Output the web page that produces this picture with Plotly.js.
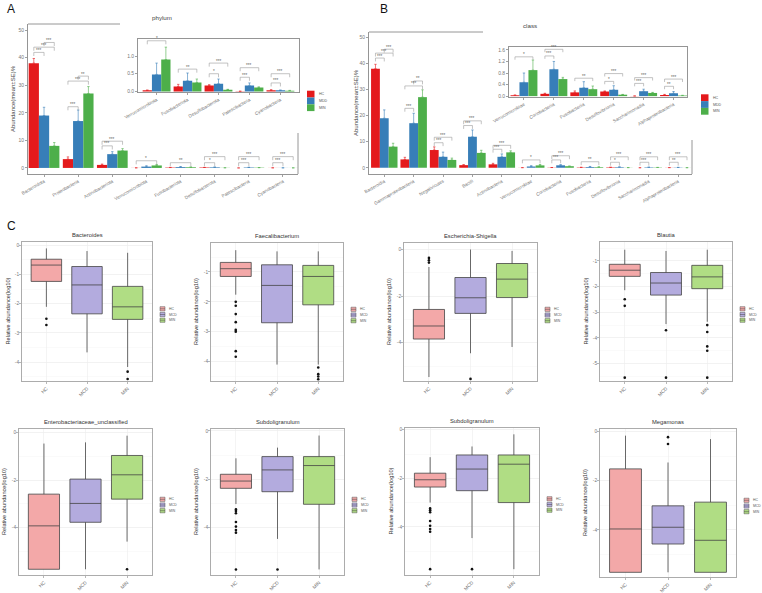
<!DOCTYPE html>
<html><head><meta charset="utf-8">
<script src="https://cdn.plot.ly/plotly-3.0.1.min.js"></script>
<style>html,body{margin:0;padding:0;background:#fff}#chart{width:762px;height:593px}</style>
</head><body><div id="chart"></div>
<script>
const W = 762, H = 593;
const px = v => v / W, py = v => 1 - v / H;

// ---------- Panel A / B data ----------
const barGroups = ['HC', 'MDD', 'MIN'];
const barColors = ['#E41A1C', '#377EB8', '#4DAF4A'];

const phyla = ['Bacteroidota','Proteobacteria','Actinobacteriota','Verrucomicrobiota','Fusobacteriota','Desulfobacterota','Patescibacteria','Cyanobacteria'];
const phylaHC  = [38.0, 3.2, 1.1, 0.03, 0.14, 0.17, 0.005, 0.03];
const phylaMDD = [19.0, 17.0, 5.0, 0.48, 0.30, 0.22, 0.17, 0.03];
const phylaMIN = [8.0, 27.0, 6.3, 0.90, 0.25, 0.05, 0.11, 0.02];
const phylaSeHC  = [1.7, 0.8, 0.3, 0.01, 0.06, 0.02, 0.002, 0.02];
const phylaSeMDD = [3.0, 4.0, 0.9, 0.32, 0.22, 0.13, 0.07, 0.01];
const phylaSeMIN = [1.2, 2.5, 0.7, 0.35, 0.10, 0.01, 0.02, 0.01];
const phylaInsetStart = 3;

const sigPhylaCat  = [0,0,0,1,1,1,2,2,3,4,5,5,6,6,7,7];
const sigPhylaPair = ['HC-MDD','HC-MIN','MDD-MIN','HC-MDD','HC-MIN','MDD-MIN','HC-MDD','HC-MIN','HC-MIN','HC-MIN','HC-MDD','HC-MIN','HC-MDD','HC-MIN','HC-MDD','HC-MIN'];
const sigPhylaY    = [41.9,43.8,45.5,22.2,31.5,33.3,8.0,9.7,2.6,1.9,1.9,4.1,1.9,4.1,1.9,4.1];
const sigPhylaLab  = ['***','***','***','***','***','**','***','***','*','**','*','***','***','***','***','***'];

const sigPhylaInCat  = [0,1,2,2,3,3,4,4];
const sigPhylaInPair = ['HC-MIN','HC-MIN','HC-MDD','HC-MIN','HC-MDD','HC-MIN','HC-MDD','HC-MIN'];
const sigPhylaInY    = [1.43,0.63,0.50,0.80,0.40,0.67,0.24,0.50];
const sigPhylaInLab  = ['*','**','*','***','***','***','***','***'];

const classes = ['Bacteroidia','Gammaproteobacteria','Negativicutes','Bacilli','Actinobacteria','Verrucomicrobiae','Coriobacteriia','Fusobacteriia','Desulfovibrionia','Saccharimonadia','Alphaproteobacteria'];
const classHC  = [38.0, 3.2, 6.8, 1.0, 1.3, 0.03, 0.08, 0.13, 0.16, 0.005, 0.04];
const classMDD = [19.0, 17.1, 4.2, 11.9, 4.2, 0.48, 0.93, 0.29, 0.22, 0.17, 0.10];
const classMIN = [8.1, 27.1, 3.0, 5.7, 5.9, 0.90, 0.59, 0.24, 0.05, 0.11, 0.02];
const classSeHC  = [1.7, 0.8, 1.2, 0.2, 0.4, 0.01, 0.02, 0.05, 0.02, 0.002, 0.02];
const classSeMDD = [3.2, 3.8, 1.8, 2.6, 1.1, 0.32, 0.27, 0.21, 0.14, 0.07, 0.06];
const classSeMIN = [1.3, 2.8, 0.7, 1.0, 0.6, 0.35, 0.06, 0.11, 0.01, 0.02, 0.01];
const classInsetStart = 5;

const sigClassCat  = [0,0,0,1,1,1,2,2,3,3,4,4,5,6,6,7,8,8,9,9,10,10];
const sigClassPair = ['HC-MDD','HC-MIN','MDD-MIN','HC-MDD','HC-MIN','MDD-MIN','HC-MDD','HC-MIN','HC-MDD','HC-MIN','HC-MDD','HC-MIN','HC-MIN','HC-MDD','HC-MIN','HC-MIN','HC-MDD','HC-MIN','HC-MDD','HC-MIN','HC-MDD','HC-MIN'];
const sigClassY    = [42.1,44.0,45.5,22.8,31.4,33.3,9.6,11.7,16.2,18.0,7.1,8.6,3.0,3.0,4.6,2.3,2.1,4.2,2.1,4.2,2.1,4.2];
const sigClassLab  = ['***','***','***','***','***','**','***','***','***','***','***','***','*','***','***','**','*','***','***','***','**','***'];

const sigClassInCat  = [0,1,1,2,3,3,4,4,5,5];
const sigClassInPair = ['HC-MIN','HC-MDD','HC-MIN','HC-MIN','HC-MDD','HC-MIN','HC-MDD','HC-MIN','HC-MDD','HC-MIN'];
const sigClassInY    = [1.36,1.39,1.62,0.62,0.51,0.78,0.44,0.64,0.34,0.59];
const sigClassInLab  = ['*','***','***','**','*','***','***','***','**','***'];

// ---------- Panel C data ----------
const boxGroups = ['HC', 'MCD', 'MIN'];
const boxFills = ['#F3A8A8', '#B3ABDE', '#B0DD84'];
const boxTitles = ['Bacteroides','Faecalibacterium','Escherichia-Shigella','Blautia','Enterobacteriaceae_unclassified','Subdoligranulum','Subdoligranulum','Megamonas'];
const boxUpper  = [[-0.11,-0.20,-0.26],[-0.27,-0.31,-0.31],[-0.75,0.00,-0.06],[-0.56,-0.61,-0.56],[-0.47,-0.42,-0.14],[-1.13,-0.69,-0.19],[-1.13,-0.69,-0.19],[-0.17,-1.26,-0.31]];
const boxQ3     = [[-0.48,-0.73,-1.41],[-0.68,-0.76,-0.78],[-2.57,-1.20,-0.60],[-1.13,-1.45,-1.17],[-2.59,-1.96,-0.97],[-1.79,-1.06,-1.06],[-1.79,-1.04,-1.04],[-1.52,-3.02,-2.87]];
const boxMedian = [[-0.68,-1.36,-2.11],[-0.89,-1.45,-1.15],[-3.28,-2.07,-1.27],[-1.36,-1.86,-1.62],[-3.92,-2.98,-1.78],[-2.07,-1.61,-1.43],[-2.06,-1.62,-1.42],[-3.96,-3.89,-4.42]];
const boxQ1     = [[-1.24,-2.35,-2.54],[-1.15,-2.70,-2.10],[-3.84,-2.74,-2.06],[-1.60,-2.33,-2.08],[-5.74,-3.77,-2.80],[-2.37,-2.51,-3.03],[-2.36,-2.51,-3.00],[-5.72,-4.57,-5.72]];
const boxLower  = [[-2.11,-3.67,-4.17],[-1.76,-4.10,-4.10],[-5.47,-4.45,-4.18],[-2.14,-3.46,-3.37],[-5.74,-5.74,-4.58],[-3.02,-4.46,-5.72],[-3.00,-4.46,-5.74],[-5.72,-5.72,-5.72]];
const boxOutliers = [
  [[-2.52,-2.73],[],[-4.33,-4.58]],
  [[-2.00,-2.13,-2.41,-2.68,-2.94,-3.00,-3.65,-3.84],[],[-4.20,-4.42,-4.50,-4.59]],
  [[-0.36,-0.46,-0.56],[-5.55],[]],
  [[-2.49,-2.75,-5.55],[-3.70,-5.55],[-3.50,-3.77,-4.33,-4.50,-5.55]],
  [[],[],[-5.74]],
  [[-3.24,-3.31,-3.40,-3.76,-3.95,-4.09,-4.20,-5.72],[-5.72],[]],
  [[-3.24,-3.31,-3.40,-3.76,-3.95,-4.09,-4.20,-5.74],[-5.74],[]],
  [[],[-0.23,-0.51],[]]
];
const boxYTicks = [[0,-1,-2,-3,-4],[-1,-2,-3,-4],[0,-2,-4],[-1,-2,-3,-4,-5],[0,-2,-4],[0,-2,-4],[0,-2,-4],[0,-2,-4]];

// ---------- layout geometry (pixels) ----------
const boxDomX = [[22,152],[211,343],[404,537],[600,732],[19,152],[211,344],[405,539],[600,736]];
const boxDomY = [[242,381],[243,381],[243,381],[242,381],[429,575],[429,575],[428,575],[429,577]];
const boxYRange = [[-4.65,0.11],[-4.65,-0.03],[-5.64,0.28],[-5.68,-0.26],[-5.98,0.14],[-5.95,0.08],[-5.98,0.07],[-5.91,0.10]];

const FONT = 'Liberation Sans, Arial, Helvetica, sans-serif';
const traces = [];
const shapes = [];
const annotations = [];
const layout = {
  width: W, height: H, margin: {l: 0, r: 0, t: 0, b: 0},
  paper_bgcolor: '#ffffff', plot_bgcolor: 'rgba(0,0,0,0)',
  showlegend: false, barmode: 'group', bargap: 0.1, bargroupgap: 0, boxmode: 'overlay',
  font: {family: FONT, size: 5, color: '#666'},
  hovermode: false
};

const axisLine = {showline: true, linecolor: '#8a8a8a', linewidth: 0.9, ticks: 'outside', ticklen: 2, tickwidth: 0.8, tickcolor: '#8a8a8a', showgrid: false, zeroline: false};

function barPanel(n, cats, vals, ses, dx, dy, xr, yr, ytv, yttxt, angle, mirror) {
  const xs = 'x' + (n === 1 ? '' : n), ys = 'y' + (n === 1 ? '' : n);
  const idx = cats.map((c, i) => i);
  layout['xaxis' + (n === 1 ? '' : n)] = Object.assign({}, axisLine, {
    domain: [px(dx[0]), px(dx[1])], anchor: ys, range: xr, tickvals: idx, ticktext: cats,
    tickangle: angle, tickfont: {size: 4.6, color: '#777'}, mirror: mirror
  });
  layout['yaxis' + (n === 1 ? '' : n)] = Object.assign({}, axisLine, {
    domain: [py(dy[1]), py(dy[0])], anchor: xs, range: yr, tickvals: ytv, ticktext: yttxt,
    tickfont: {size: 5, color: '#777'}, mirror: mirror
  });
  vals.forEach((v, g) => {
    traces.push({
      type: 'bar', x: idx, y: v, xaxis: xs, yaxis: ys, name: barGroups[g],
      marker: {color: barColors[g], line: {width: 0}},
      error_y: {type: 'data', symmetric: false, array: ses[g], arrayminus: ses[g].map(() => 0),
                color: barColors[g], thickness: 0.6, width: 1.2}
    });
  });
  return [xs, ys];
}

const groupOff = {HC: -0.3, MDD: 0, MIN: 0.3};
function brackets(axes, cat, pair, yv, lab, tip) {
  const bx = [], by = [];
  cat.forEach((c, i) => {
    const [a, b] = pair[i].split('-');
    const x0 = c + groupOff[a], x1 = c + groupOff[b], y = yv[i];
    bx.push(x0, x0, x1, x1, null);
    by.push(y - tip, y, y, y - tip, null);
    annotations.push({xref: axes[0], yref: axes[1], x: (x0 + x1) / 2, y: y, text: lab[i],
      showarrow: false, xanchor: 'center', yanchor: 'bottom', yshift: -2.5, font: {size: 4.5, color: '#666'}});
  });
  traces.push({type: 'scatter', mode: 'lines', x: bx, y: by, xaxis: axes[0], yaxis: axes[1],
    line: {color: '#9a9a9a', width: 0.6}, hoverinfo: 'skip'});
}

// Panel A main
const aMain = barPanel(1, phyla, [phylaHC, phylaMDD, phylaMIN], [phylaSeHC, phylaSeMDD, phylaSeMIN],
  [28, 298], [24, 174], [-0.47, 7.44], [-2.2, 52.2], [0,10,20,30,40,50], ['0','10','20','30','40','50'], -30, false);
brackets(aMain, sigPhylaCat, sigPhylaPair, sigPhylaY, sigPhylaLab, 1.3);
// Panel A inset
const sl = (a, s) => a.slice(s);
const aIn = barPanel(2, sl(phyla, phylaInsetStart),
  [sl(phylaHC, phylaInsetStart), sl(phylaMDD, phylaInsetStart), sl(phylaMIN, phylaInsetStart)],
  [sl(phylaSeHC, phylaInsetStart), sl(phylaSeMDD, phylaInsetStart), sl(phylaSeMIN, phylaInsetStart)],
  [138, 299], [39, 92.5], [-0.6, 4.6], [-0.03, 1.48], [0, 0.5, 1.0], ['0.0','0.5','1.0'], -30, true);
brackets(aIn, sigPhylaInCat, sigPhylaInPair, sigPhylaInY, sigPhylaInLab, 0.1);
// Panel B main
const bMain = barPanel(3, classes, [classHC, classMDD, classMIN], [classSeHC, classSeMDD, classSeMIN],
  [369, 692], [32, 174], [-0.52, 10.47], [-2.4, 52.1], [0,10,20,30,40,50], ['0','10','20','30','40','50'], -30, false);
brackets(bMain, sigClassCat, sigClassPair, sigClassY, sigClassLab, 1.3);
// Panel B inset
const bIn = barPanel(4, sl(classes, classInsetStart),
  [sl(classHC, classInsetStart), sl(classMDD, classInsetStart), sl(classMIN, classInsetStart)],
  [sl(classSeHC, classInsetStart), sl(classSeMDD, classInsetStart), sl(classSeMIN, classInsetStart)],
  [509, 687], [47, 97], [-0.5, 5.45], [-0.03, 1.70], [0, 0.4, 0.8, 1.2, 1.6], ['0.0','0.4','0.8','1.2','1.6'], -30, true);
brackets(bIn, sigClassInCat, sigClassInPair, sigClassInY, sigClassInLab, 0.1);

// partial frame lines of the main bar panels (the insets cover the rest)
const frameLine = {type: 'line', xref: 'paper', yref: 'paper', line: {color: '#8a8a8a', width: 0.9}};
shapes.push(Object.assign({}, frameLine, {x0: px(28), x1: px(120), y0: py(24), y1: py(24)}));
shapes.push(Object.assign({}, frameLine, {x0: px(298), x1: px(298), y0: py(133), y1: py(174)}));
shapes.push(Object.assign({}, frameLine, {x0: px(369), x1: px(483), y0: py(32), y1: py(32)}));
shapes.push(Object.assign({}, frameLine, {x0: px(692), x1: px(692), y0: py(140), y1: py(174)}));

// bar legends
function barLegend(x, y0) {
  barGroups.forEach((g, i) => {
    shapes.push({type: 'rect', xref: 'paper', yref: 'paper', x0: px(x), x1: px(x + 7.5),
      y0: py(y0 + i * 6.8 + 6.8), y1: py(y0 + i * 6.8), fillcolor: barColors[i], line: {width: 0}});
    annotations.push({xref: 'paper', yref: 'paper', x: px(x + 10), y: py(y0 + i * 6.8 + 3.4), text: g,
      showarrow: false, xanchor: 'left', yanchor: 'middle', font: {size: 3.6, color: '#555'}});
  });
}
barLegend(307, 90.7);
barLegend(701, 94.3);

// titles / labels for A,B
const txt = (x, y, t, size, color, extra) => annotations.push(Object.assign({xref: 'paper', yref: 'paper',
  x: px(x), y: py(y), text: t, showarrow: false, xanchor: 'center', yanchor: 'middle',
  font: {size: size, color: color}}, extra || {}));
txt(11, 9, 'A', 12, '#111');
txt(384, 9, 'B', 12, '#111');
txt(11, 226, 'C', 12, '#111');
txt(162, 17, 'phylum', 6.2, '#444');
txt(530, 25, 'class', 6.2, '#444');
txt(13, 99, 'Abundance(mean±SE)%', 6, '#444', {textangle: -90});
txt(356, 103, 'Abundance(mean±SE)%', 6, '#444', {textangle: -90});

// ---------- Panel C boxplots ----------
boxTitles.forEach((title, p) => {
  const n = p + 5, xs = 'x' + n, ys = 'y' + n;
  const [l, r] = boxDomX[p], [t, b] = boxDomY[p];
  layout['xaxis' + n] = {
    domain: [px(l), px(r)], anchor: ys, type: 'category', categoryorder: 'array', categoryarray: boxGroups,
    range: [-0.6, 2.6], showline: true, mirror: true, linecolor: '#a3a3a3', linewidth: 0.9,
    showgrid: true, gridcolor: '#ececec', gridwidth: 0.6, zeroline: false,
    ticks: 'outside', ticklen: 2, tickwidth: 0.7, tickcolor: '#999', tickangle: -45,
    tickfont: {size: 4.8, color: '#777'}
  };
  const step = Math.abs(boxYTicks[p][0] - boxYTicks[p][1]);
  layout['yaxis' + n] = {
    domain: [py(b), py(t)], anchor: xs, range: boxYRange[p], showline: true, mirror: true,
    linecolor: '#a3a3a3', linewidth: 0.9, showgrid: true, gridcolor: '#ececec', gridwidth: 0.6, zeroline: false,
    tickvals: boxYTicks[p], ticktext: boxYTicks[p].map(v => String(v)),
    ticks: 'outside', ticklen: 2, tickwidth: 0.7, tickcolor: '#999', tickfont: {size: 4.8, color: '#777'},
    ticklabelstandoff: -1,
    minor: {tick0: 0, dtick: step / 2, showgrid: true, gridcolor: '#f6f6f6', gridwidth: 0.5, ticks: ''}
  };
  boxGroups.forEach((g, i) => {
    traces.push({
      type: 'box', xaxis: xs, yaxis: ys, x: [g], name: g,
      q1: [boxQ1[p][i]], median: [boxMedian[p][i]], q3: [boxQ3[p][i]],
      lowerfence: [boxLower[p][i]], upperfence: [boxUpper[p][i]],
      width: 0.75, whiskerwidth: 0, boxpoints: false,
      fillcolor: boxFills[i], line: {color: '#444', width: 0.8}
    });
    if (boxOutliers[p][i].length) {
      traces.push({
        type: 'scatter', mode: 'markers', xaxis: xs, yaxis: ys,
        x: boxOutliers[p][i].map(() => g), y: boxOutliers[p][i],
        marker: {color: '#111', size: 2.6}, hoverinfo: 'skip'
      });
    }
  });
  // subplot title and y title
  txt((l + r) / 2, t - 7, title, 5.8, '#333');
  txt(l - 15, (t + b) / 2, 'Relative abundance(log10)', 5.6, '#333', {textangle: -90});
  // legend
  const gx = r + 8, cy = (t + b) / 2 + 3;
  boxGroups.forEach((g, i) => {
    const yc = cy + (i - 1) * 5.7;
    shapes.push({type: 'rect', xref: 'paper', yref: 'paper', x0: px(gx), x1: px(gx + 5),
      y0: py(yc + 2.1), y1: py(yc - 2.1), fillcolor: boxFills[i], line: {color: '#555', width: 0.5}});
    shapes.push({type: 'line', xref: 'paper', yref: 'paper', x0: px(gx), x1: px(gx + 5),
      y0: py(yc), y1: py(yc), line: {color: '#444', width: 0.5}});
    annotations.push({xref: 'paper', yref: 'paper', x: px(gx + 7), y: py(yc), text: g, showarrow: false,
      xanchor: 'left', yanchor: 'middle', font: {size: 3.4, color: '#555'}});
  });
});

layout.shapes = shapes;
layout.annotations = annotations;
Plotly.newPlot('chart', traces, layout, {staticPlot: true, displayModeBar: false});
</script>
</body></html>
